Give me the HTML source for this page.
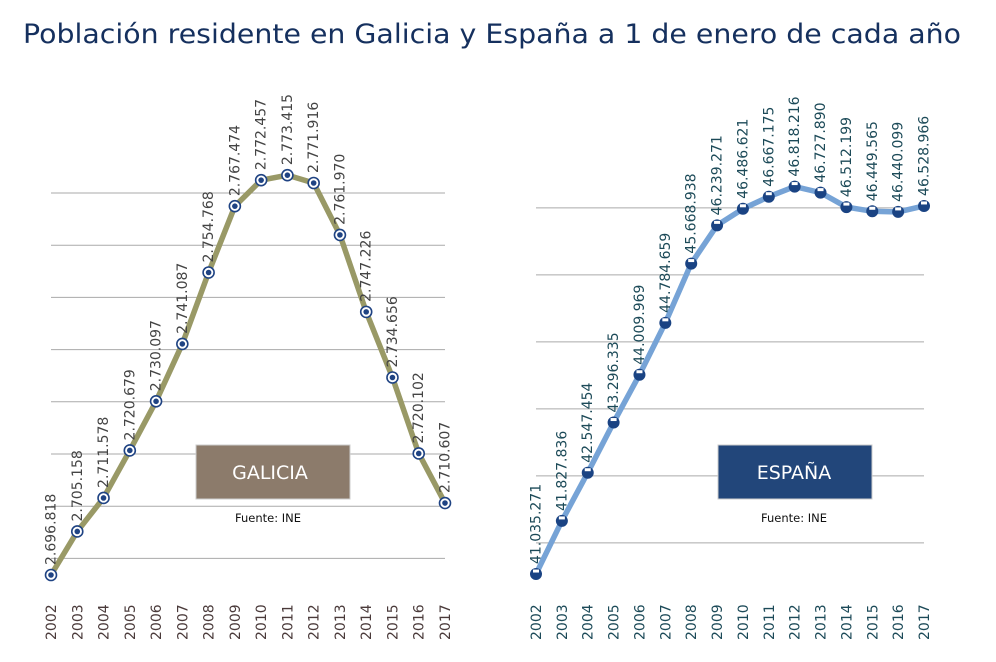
<!DOCTYPE html>
<html><head><meta charset="utf-8"><style>
body{margin:0;background:#fff;}
svg{display:block;font-family:"DejaVu Sans","Liberation Sans",sans-serif;}
</style></head><body>
<svg id="s" width="996" height="662" viewBox="0 0 996 662">
<text x="492" y="43" text-anchor="middle" font-size="27" fill="#15305e" textLength="938" lengthAdjust="spacingAndGlyphs">Población residente en Galicia y España a 1 de enero de cada año</text>
<g id="g1"></g>
<g id="g2"></g>
<rect x="196" y="445" width="154" height="54" fill="#8c7b6b" stroke="#ccc"/>
<text x="270" y="479" text-anchor="middle" font-size="19" fill="#fff">GALICIA</text>
<text x="268" y="522" text-anchor="middle" font-size="11.5" fill="#111">Fuente: INE</text>
<rect x="718" y="445" width="154" height="54" fill="#22467a" stroke="#ccc"/>
<text x="794" y="479" text-anchor="middle" font-size="19" fill="#fff">ESPAÑA</text>
<text x="794" y="522" text-anchor="middle" font-size="11.5" fill="#111">Fuente: INE</text>
</svg>
<script>
const years = ["2002","2003","2004","2005","2006","2007","2008","2009","2010","2011","2012","2013","2014","2015","2016","2017"];
const galiciaValues = [2696818,2705158,2711578,2720679,2730097,2741087,2754768,2767474,2772457,2773415,2771916,2761970,2747226,2734656,2720102,2710607];
const espanaValues = [41035271,41827836,42547454,43296335,44009969,44784659,45668938,46239271,46486621,46667175,46818216,46727890,46512199,46449565,46440099,46528966];
const galiciaGrid = [2700000,2710000,2720000,2730000,2740000,2750000,2760000,2770000];
const espanaGrid = [41500000,42500000,43500000,44500000,45500000,46500000];
const NS="http://www.w3.org/2000/svg";
function mk(p,t,a){const e=document.createElementNS(NS,t);for(const k in a)e.setAttribute(k,a[k]);p.appendChild(e);return e;}
function fmt(v){return String(v).replace(/\B(?=(\d{3})+(?!\d))/g,".");}
function draw(gid,vals,grid,x0,x1,vRef,yRef,pxPer,lineCol,labCol,yearCol,name,marker){
  const g=document.getElementById(gid);
  const xs=i=>x0+(x1-x0)*i/(years.length-1);
  const ys=v=>yRef-(v-vRef)*pxPer;
  grid.forEach(v=>{const l=mk(g,'line',{x1:x0,x2:x1,y1:ys(v),y2:ys(v),stroke:'#aaa','stroke-width':1});
    
    });
  const pts=vals.map((v,i)=>xs(i)+','+ys(v)).join(' ');
  const pl=mk(g,'polyline',{points:pts,fill:'none',stroke:lineCol,'stroke-width':5.5,'stroke-linejoin':'round'});
  
  
  vals.forEach((v,i)=>{
    const x=xs(i),y=ys(v);
    let m;
    if(marker==='ring'){
      m=mk(g,'g',{});
      mk(m,'circle',{cx:x,cy:y,r:5.5,fill:'#fff',stroke:'#1f4383','stroke-width':1.6});
      mk(m,'circle',{cx:x,cy:y,r:2.8,fill:'#1f4383'});
    }else{
      m=mk(g,'g',{});
      mk(m,'circle',{cx:x,cy:y,r:6,fill:'#1a4383'});
      mk(m,'rect',{x:x-3,y:y-4.5,width:6,height:3,fill:'#fff'});
    }
    
    
    const t=mk(g,'text',{transform:`translate(${x+4.5},${y-10}) rotate(-90)`,'font-size':14,fill:labCol});
    t.textContent=fmt(v);
    
    
    const yt=mk(g,'text',{transform:`translate(${x+5},${640}) rotate(-90)`,'font-size':14,fill:yearCol});
    yt.textContent=years[i];
    
    
  });
}
draw('g1',galiciaValues,galiciaGrid,51,445,2700000,558.4,52.2/10000,'#999966','#444','#4a3a3a','galicia','ring');
draw('g2',espanaValues,espanaGrid,536,924,41000000,576.4,67/1000000,'#76a3d6','#1c4a58','#1c4a58','espana','ball');
</script>
</body></html>
